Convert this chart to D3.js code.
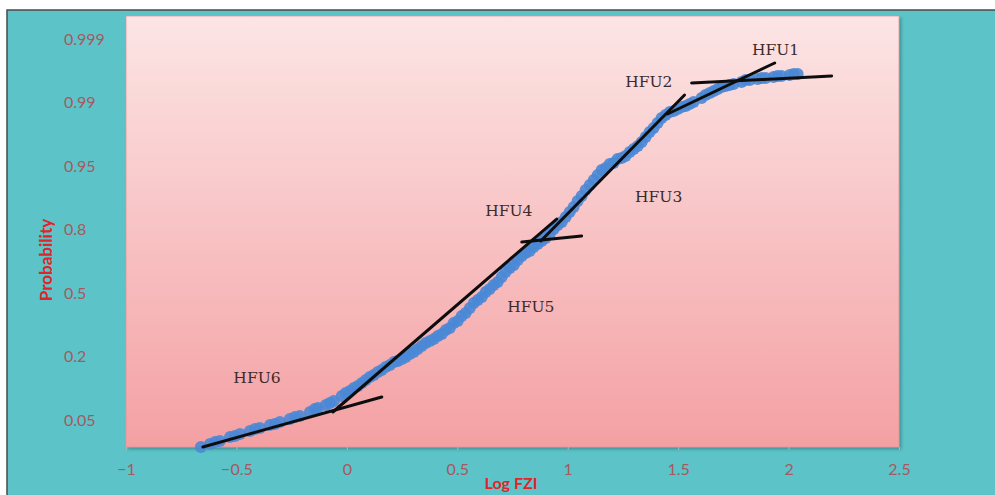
<!DOCTYPE html>
<html>
<head>
<meta charset="utf-8">
<script src="https://cdn.jsdelivr.net/npm/d3@7"></script>
<style>
  body { margin: 0; background: #ffffff; }
  svg { display: block; }
</style>
</head>
<body>
<svg id="chart" width="995" height="495"></svg>
<script>
// Axis ticks
const xTicks = [-1, -0.5, 0, 0.5, 1, 1.5, 2, 2.5];
const probLabels = ["0.05", "0.2", "0.5", "0.8", "0.95", "0.99", "0.999"];

// Observed samples: Log FZI vs. position on the probability axis
// (0 = 0.05, 1 = 0.2, 2 = 0.5, 3 = 0.8, 4 = 0.95, 5 = 0.99, 6 = 0.999)
const logFZI = [
  -0.661, -0.620, -0.575, -0.529, -0.484, -0.439, -0.394, -0.348, -0.303, -0.258,
  -0.213, -0.167, -0.131, -0.095, -0.059, -0.023, 0.014, 0.050, 0.086, 0.122,
  0.158, 0.195, 0.231, 0.267, 0.303, 0.339, 0.376, 0.412, 0.448, 0.484,
  0.520, 0.557, 0.593, 0.629, 0.665, 0.701, 0.738, 0.774, 0.810, 0.846,
  0.882, 0.919, 0.955, 0.991, 1.027, 1.063, 1.100, 1.136, 1.172, 1.208,
  1.244, 1.281, 1.317, 1.353, 1.389, 1.425, 1.462, 1.498, 1.534, 1.570,
  1.606, 1.643, 1.679, 1.715, 1.751, 1.787, 1.824, 1.860, 1.896, 1.932,
  1.968, 2.005, 2.041,
  0.430, 0.466, 0.502, 0.538, 0.575, 0.611, 0.647, 0.683, 0.719, 0.756,
  0.792, 0.828, 0.864, 0.900, 0.937, 0.973, 1.009, 1.045, 1.081, 1.118,
  1.154, 1.190, 1.226, 1.262, 1.299, 1.335, 1.371, 1.407, 1.443, 1.480,
  1.516, 1.552,
  -0.005, 0.032, 0.068, 0.104, 0.140, 0.176, 0.213, 0.249, 0.285, 0.321,
  0.357, 0.394,
  1.624, 1.661, 1.697, 1.733, 1.805, 1.878, 1.950, 2.023,
  -0.597, -0.507, -0.416, -0.326, -0.235, -0.145, -0.077
];
const probPos = [
  -0.425, -0.378, -0.331, -0.268, -0.220, -0.173, -0.126, -0.079, -0.031, 0.016,
  0.063, 0.126, 0.189, 0.236, 0.299, 0.378, 0.457, 0.535, 0.630, 0.709,
  0.787, 0.866, 0.929, 0.992, 1.071, 1.165, 1.244, 1.323, 1.417, 1.528,
  1.638, 1.764, 1.890, 2.016, 2.126, 2.252, 2.394, 2.520, 2.630, 2.724,
  2.819, 2.929, 3.071, 3.197, 3.354, 3.528, 3.701, 3.858, 3.969, 4.047,
  4.126, 4.220, 4.315, 4.457, 4.598, 4.756, 4.850, 4.898, 4.945, 5.008,
  5.071, 5.150, 5.213, 5.260, 5.291, 5.323, 5.354, 5.370, 5.386, 5.402,
  5.417, 5.433, 5.449,
  1.354, 1.449, 1.559, 1.685, 1.843, 1.937, 2.063, 2.173, 2.331, 2.441,
  2.583, 2.661, 2.772, 2.866, 3.008, 3.118, 3.276, 3.449, 3.622, 3.780,
  3.937, 4.031, 4.110, 4.157, 4.268, 4.378, 4.535, 4.677, 4.803, 4.866,
  4.929, 4.976,
  0.425, 0.504, 0.583, 0.677, 0.756, 0.835, 0.913, 0.961, 1.039, 1.118,
  1.213, 1.276,
  5.118, 5.181, 5.244, 5.276, 5.354, 5.386, 5.417, 5.449,
  -0.346, -0.252, -0.142, -0.063, 0.047, 0.173, 0.268
];

// Straight-line fits for each hydraulic flow unit
const unitNames = ["HFU1", "HFU2", "HFU3", "HFU4", "HFU5", "HFU6"];
const fitX0 = [1.561, 1.452, 0.878, 0.792, -0.063, -0.652];
const fitY0 = [5.307, 4.819, 2.819, 2.803, 0.126, -0.425];
const fitX1 = [2.195, 1.937, 1.529, 1.063, 0.950, 0.158];
const fitY1 = [5.417, 5.622, 5.118, 2.898, 3.165, 0.362];

// Unit label anchors
const labelX = [1.941, 1.367, 1.412, 0.733, 0.833, -0.407];
const labelY = [5.827, 5.323, 3.512, 3.291, 1.780, 0.661];

const svg = d3.select("#chart");
const W = 995, H = 495;
const plot = { left: 126, right: 899, top: 16, bottom: 447 };

const x = d3.scaleLinear().domain([-1, 2.5]).range([plot.left, plot.right]);
const y = d3.scaleLinear().domain([-0.425, 6.362]).range([plot.bottom, plot.top]);

const defs = svg.append("defs");
const grad = defs.append("linearGradient")
  .attr("id", "plotFill").attr("x1", 0).attr("y1", 0).attr("x2", 0).attr("y2", 1);
grad.append("stop").attr("offset", "0%").attr("stop-color", "#fce5e5");
grad.append("stop").attr("offset", "100%").attr("stop-color", "#f4a0a3");

const shadow = defs.append("filter").attr("id", "shadow")
  .attr("x", "-5%").attr("y", "-5%").attr("width", "110%").attr("height", "110%");
shadow.append("feDropShadow").attr("dx", 2).attr("dy", 2).attr("stdDeviation", 1.5)
  .attr("flood-color", "#2a6f73").attr("flood-opacity", 0.6);

const soft = defs.append("filter").attr("id", "soft");
soft.append("feGaussianBlur").attr("stdDeviation", 0.7);

// Outer chart area
svg.append("rect").attr("x", 7).attr("y", 10).attr("width", W).attr("height", H)
  .attr("fill", "#5cc4c8").attr("stroke", "#4a4a4a").attr("stroke-width", 1.5);

// Plot area
svg.append("rect")
  .attr("x", plot.left).attr("y", plot.top)
  .attr("width", plot.right - plot.left).attr("height", plot.bottom - plot.top)
  .attr("fill", "url(#plotFill)").attr("stroke", "#d99a9c").attr("stroke-width", 0.8)
  .attr("filter", "url(#shadow)");

// X axis
const xAxis = d3.axisBottom(x).tickValues(xTicks).tickSize(3).tickPadding(14)
  .tickFormat(d3.format(""));
const gx = svg.append("g").attr("transform", `translate(0,${plot.bottom})`).call(xAxis);
gx.select(".domain").remove();
gx.selectAll(".tick line").attr("stroke", "#a9b9b9");
gx.selectAll(".tick text")
  .attr("fill", "#a45a60").attr("font-family", "Lato, 'Open Sans', sans-serif")
  .attr("font-size", 16);

// Y axis labels (left aligned)
svg.append("g").selectAll("text").data(probLabels).join("text")
  .attr("x", 64).attr("y", (d, i) => y(i)).attr("dy", "0.35em")
  .attr("fill", "#a45a60").attr("font-family", "Lato, 'Open Sans', sans-serif")
  .attr("font-size", 16).text(d => d);

// Axis titles
svg.append("text").attr("x", 511).attr("y", 489).attr("text-anchor", "middle")
  .attr("fill", "#e0242a").attr("font-family", "Lato, 'Open Sans', sans-serif")
  .attr("font-weight", "bold").attr("font-size", 16).text("Log FZI");
svg.append("text").attr("transform", "translate(52,260) rotate(-90)")
  .attr("text-anchor", "middle")
  .attr("fill", "#e0242a").attr("font-family", "Lato, 'Open Sans', sans-serif")
  .attr("font-weight", "bold").attr("font-size", 17).text("Probability");

// Data points
svg.append("g").attr("filter", "url(#soft)")
  .selectAll("circle").data(logFZI).join("circle")
  .attr("cx", d => x(d)).attr("cy", (d, i) => y(probPos[i]))
  .attr("r", 6).attr("fill", "#4a88d6").attr("fill-opacity", 0.9);

// Fitted lines
svg.append("g").attr("filter", "url(#soft)")
  .selectAll("line").data(unitNames).join("line")
  .attr("x1", (d, i) => x(fitX0[i])).attr("y1", (d, i) => y(fitY0[i]))
  .attr("x2", (d, i) => x(fitX1[i])).attr("y2", (d, i) => y(fitY1[i]))
  .attr("stroke", "#111").attr("stroke-width", 3).attr("stroke-linecap", "round");

// Unit labels
svg.append("g").selectAll("text").data(unitNames).join("text")
  .attr("x", (d, i) => x(labelX[i])).attr("y", (d, i) => y(labelY[i]))
  .attr("dy", "0.35em").attr("text-anchor", "middle")
  .attr("fill", "#3b2b2b").attr("font-family", "'DejaVu Serif', 'Liberation Serif', serif")
  .attr("font-size", 15.5).text(d => d);
</script>
</body>
</html>
